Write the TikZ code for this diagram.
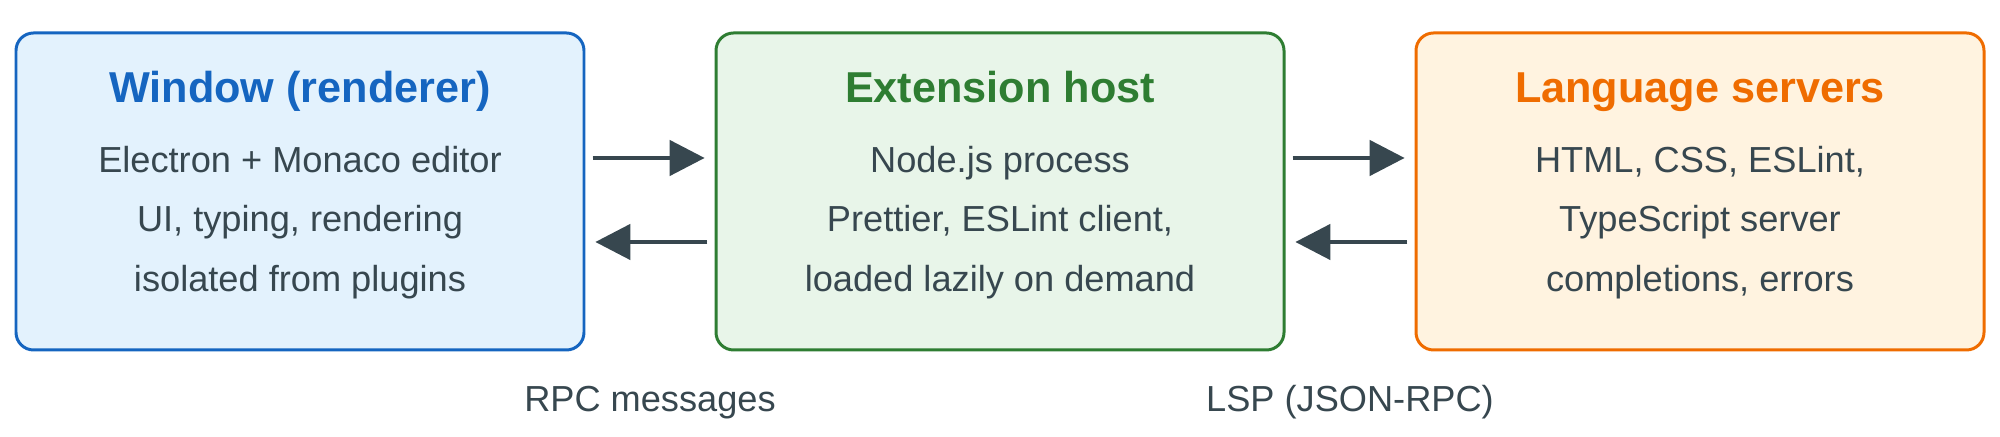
\documentclass[tikz,border=0pt]{standalone}
\usepackage{fontspec}
\setmainfont{Liberation Sans}
\usepackage{xcolor}
\usetikzlibrary{arrows.meta}
\definecolor{winblue}{HTML}{1565C0}
\definecolor{winfill}{HTML}{E3F2FD}
\definecolor{hostgreen}{HTML}{2E7D32}
\definecolor{hostfill}{HTML}{E8F5E9}
\definecolor{lsorange}{HTML}{EF6C00}
\definecolor{lsfill}{HTML}{FFF3E0}
\definecolor{slate}{HTML}{37474F}

\begin{document}
\begin{tikzpicture}[
        box/.style={draw,line width=0.85pt,rounded corners=5pt,minimum width=5.68cm,minimum height=3.17cm},
        boxtitle/.style={anchor=base,font=\bfseries\fontsize{12.3}{14}\selectfont},
        bodyline/.style={anchor=base,text=slate,font=\fontsize{10.3}{12}\selectfont},
        flow/.style={-{Triangle[length=10pt,width=10pt]},line width=1.3pt,draw=slate,fill=slate,shorten <=2pt,shorten >=2.8pt}]
        \useasboundingbox (0,0) rectangle (20,-4.37);
        % the three processes
        \node[box,draw=winblue,fill=winfill] (window) at (3,-1.915) {};
        \node[box,draw=hostgreen,fill=hostfill] (host) at (10,-1.915) {};
        \node[box,draw=lsorange,fill=lsfill] (servers) at (17,-1.915) {};
        \node[boxtitle,text=winblue] (windowtitle) at (3,-1.03) {Window (renderer)};
        \node[bodyline] (window1) at (3,-1.73) {Electron + Monaco editor};
        \node[bodyline] (window2) at (3,-2.32) {UI, typing, rendering};
        \node[bodyline] (window3) at (3,-2.92) {isolated from plugins};
        \node[boxtitle,text=hostgreen] (hosttitle) at (10,-1.03) {Extension host};
        \node[bodyline] (host1) at (10,-1.73) {Node.js process};
        \node[bodyline] (host2) at (10,-2.32) {Prettier, ESLint client,};
        \node[bodyline] (host3) at (10,-2.92) {loaded lazily on demand};
        \node[boxtitle,text=lsorange] (serverstitle) at (17,-1.03) {Language servers};
        \node[bodyline] (servers1) at (17,-1.73) {HTML, CSS, ESLint,};
        \node[bodyline] (servers2) at (17,-2.32) {TypeScript server};
        \node[bodyline] (servers3) at (17,-2.92) {completions, errors};
        % messages between them
        \draw[flow] ([yshift=3.35mm]window.east) -- ([yshift=3.35mm]host.west);
        \draw[flow] ([yshift=-5.05mm]host.west) -- ([yshift=-5.05mm]window.east);
        \draw[flow] ([yshift=3.35mm]host.east) -- ([yshift=3.35mm]servers.west);
        \draw[flow] ([yshift=-5.05mm]servers.west) -- ([yshift=-5.05mm]host.east);
        \node[bodyline] (rpclabel) at (6.5,-4.12) {RPC messages};
        \node[bodyline] (lsplabel) at (13.5,-4.12) {LSP (JSON-RPC)};
\end{tikzpicture}
\end{document}
